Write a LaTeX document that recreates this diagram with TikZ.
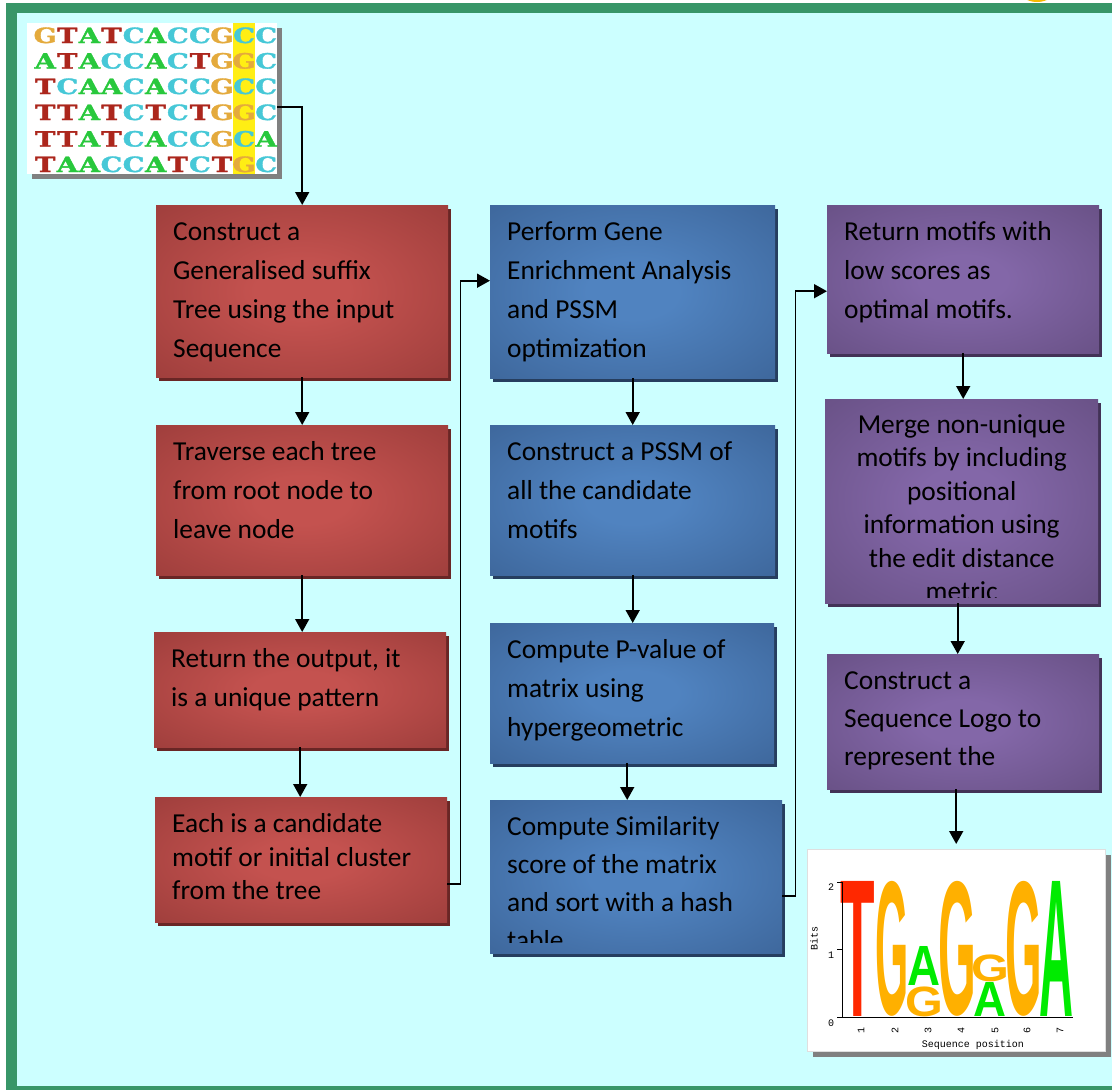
\documentclass[tikz,border=0pt]{standalone}
\usepackage{fontspec}
\usepackage{graphicx}
\setmainfont{Carlito}
\newfontfamily\seqfont{DejaVu Serif}[BoldFeatures={FakeBold=1.6}]
\newfontfamily\logofont{Liberation Sans}
\newfontfamily\axisfont{Liberation Mono}
\usetikzlibrary{arrows.meta,shadows,calc}

% palette
\definecolor{frameG}{RGB}{56,150,104}
\definecolor{bgC}{RGB}{204,255,255}
\definecolor{redC}{RGB}{196,82,79}
\definecolor{redE}{RGB}{143,54,52}
\definecolor{redS}{RGB}{105,38,37}
\definecolor{bluC}{RGB}{80,131,192}
\definecolor{bluE}{RGB}{54,91,140}
\definecolor{bluS}{RGB}{38,62,95}
\definecolor{purC}{RGB}{131,103,168}
\definecolor{purE}{RGB}{94,72,120}
\definecolor{purS}{RGB}{66,50,86}
\definecolor{nucG}{RGB}{228,170,60}
\definecolor{nucT}{RGB}{172,38,28}
\definecolor{nucA}{RGB}{40,200,60}
\definecolor{nucC}{RGB}{70,200,215}
\definecolor{hiY}{RGB}{255,238,20}
\definecolor{logoT}{RGB}{255,40,0}
\definecolor{logoG}{RGB}{255,176,0}
\definecolor{logoA}{RGB}{0,235,0}
\definecolor{sunO}{RGB}{245,185,0}
\definecolor{shadowGray}{RGB}{128,128,128}

% soft centre glow for the process boxes
\pgfdeclareradialshading{redglow}{\pgfpoint{0bp}{0bp}}{color(0bp)=(redC);color(8bp)=(redC);color(48bp)=(redE);color(75bp)=(redE)}
\pgfdeclareradialshading{bluglow}{\pgfpoint{0bp}{0bp}}{color(0bp)=(bluC);color(8bp)=(bluC);color(48bp)=(bluE);color(75bp)=(bluE)}
\pgfdeclareradialshading{purglow}{\pgfpoint{0bp}{0bp}}{color(0bp)=(purC);color(8bp)=(purC);color(48bp)=(purE);color(75bp)=(purE)}

% alignment letters, each in a fixed-width cell
\newcommand\NucCell[2]{\makebox[17pt]{\textcolor{#1}{#2}}}
\newcommand\NucG{\NucCell{nucG}{G}}
\newcommand\NucT{\NucCell{nucT}{T}}
\newcommand\NucA{\NucCell{nucA}{A}}
\newcommand\NucC{\NucCell{nucC}{C}}
\newcommand\SeqRow[1]{\scalebox{1.3}[1]{#1}}
\newcommand\TopStrut{\rule{0pt}{22pt}}
\newcommand\LogoChar[3]{\resizebox*{#1}{#2}{\logofont\bfseries #3}}

\begin{document}
\begin{tikzpicture}[x=1pt,y=-1pt,
  procbox/.style={rectangle, inner sep=0pt, anchor=north west},
  redbox/.style={procbox, shading=redglow,
    drop shadow={shadow xshift=3pt, shadow yshift=-4pt, fill=redS, opacity=1}},
  blubox/.style={procbox, shading=bluglow,
    drop shadow={shadow xshift=3pt, shadow yshift=-4pt, fill=bluS, opacity=1}},
  purbox/.style={procbox, shading=purglow,
    drop shadow={shadow xshift=3pt, shadow yshift=-4pt, fill=purS, opacity=1}},
  txt/.style={anchor=north west, inner sep=0pt, align=left, text=black,
    font=\fontsize{27.4}{39}\selectfont},
  txtb/.style={txt, font=\fontsize{27.4}{33.5}\selectfont},
  txtc/.style={anchor=north, inner sep=0pt, align=center, text=black,
    font=\fontsize{27.4}{33.5}\selectfont},
  arr/.style={line width=1.6pt, -{Triangle[width=14pt,length=13pt]}},
  seqrow/.style={anchor=base west, inner sep=0pt,
    font=\seqfont\bfseries\fontsize{21}{21}\selectfont},
  lg/.style={anchor=south west, inner sep=0pt},
  axlab/.style={inner sep=0pt, font=\axisfont\fontsize{10}{10}\selectfont},
]
\useasboundingbox (0,0) rectangle (1112,1090);
\clip (0,0) rectangle (1112,1090);

% page frame
\fill[white] (0,0) rectangle (1112,1090);
\fill[frameG] (6,3) rectangle (1130,1100);
\fill[bgC] (17,13) rectangle (1130,1086);
\fill[sunO] (1037,-12) ellipse [x radius=19, y radius=14];

% input alignment
\node[procbox, fill=white, minimum width=250pt, minimum height=151pt,
  drop shadow={shadow xshift=5pt, shadow yshift=-5pt, fill=shadowGray, opacity=1}]
  (seq) at (27,22.5) {};
\fill[hiY] (233,22.5) rectangle (255,173.5);
\begin{scope}
  \clip (27,22.5) rectangle (277,173.5);
  \node[seqrow] (q1) at (34,43)    {\SeqRow{\NucG\NucT\NucA\NucT\NucC\NucA\NucC\NucC\NucG\NucC\NucC}};
  \node[seqrow] (q2) at (34,68.5)  {\SeqRow{\NucA\NucT\NucA\NucC\NucC\NucA\NucC\NucT\NucG\NucG\NucC}};
  \node[seqrow] (q3) at (34,94)    {\SeqRow{\NucT\NucC\NucA\NucA\NucC\NucA\NucC\NucC\NucG\NucC\NucC}};
  \node[seqrow] (q4) at (34,120)   {\SeqRow{\NucT\NucT\NucA\NucT\NucC\NucT\NucC\NucT\NucG\NucG\NucC}};
  \node[seqrow] (q5) at (34,146.5) {\SeqRow{\NucT\NucT\NucA\NucT\NucC\NucA\NucC\NucC\NucG\NucC\NucA}};
  \node[seqrow] (q6) at (34,172)   {\SeqRow{\NucT\NucA\NucA\NucC\NucC\NucA\NucT\NucC\NucT\NucG\NucC}};
\end{scope}

% process boxes
\node[redbox, minimum width=292pt, minimum height=172pt] (r1) at (156,205) {};
\node[redbox, minimum width=292pt, minimum height=150pt] (r2) at (156,425) {};
\node[redbox, minimum width=292pt, minimum height=115pt] (r3) at (154,632) {};
\node[redbox, minimum width=292pt, minimum height=125pt] (r4) at (155,797) {};
\node[blubox, minimum width=285pt, minimum height=173pt] (b1) at (490,205) {};
\node[blubox, minimum width=285pt, minimum height=150pt] (b2) at (490,425) {};
\node[blubox, minimum width=284pt, minimum height=140pt] (b3) at (490,623) {};
\node[blubox, minimum width=292pt, minimum height=153pt] (b4) at (490,800) {};
\node[purbox, minimum width=272pt, minimum height=148pt] (p1) at (827,205) {};
\node[purbox, minimum width=273pt, minimum height=204pt] (p2) at (825,399) {};
\node[purbox, minimum width=272pt, minimum height=135pt] (p3) at (827,654) {};

% box texts
\node[txt]  (r1t) at ([shift={(17,13.5)}]r1.north west) {\TopStrut Construct a\\Generalised suffix\\Tree using the input\\Sequence};
\node[txt]  (r2t) at ([shift={(17,13.5)}]r2.north west) {\TopStrut Traverse each tree\\from root node to\\leave node};
\node[txt]  (r3t) at ([shift={(17,13.5)}]r3.north west) {\TopStrut Return the output, it\\is a unique pattern};
\node[txtb] (r4t) at ([shift={(17,13.5)}]r4.north west) {\TopStrut Each is a candidate\\motif or initial cluster\\from the tree};
\node[txt]  (b1t) at ([shift={(17,13.5)}]b1.north west) {\TopStrut Perform Gene\\Enrichment Analysis\\and PSSM\\optimization};
\node[txt]  (b2t) at ([shift={(17,13.5)}]b2.north west) {\TopStrut Construct a PSSM of\\all the candidate\\motifs};
\node[txt]  (b3t) at ([shift={(17,13.5)}]b3.north west) {\TopStrut Compute P-value of\\matrix using\\hypergeometric};
\begin{scope}
  \clip (490,800) rectangle (782,942);
  \node[txt, font=\fontsize{27.4}{38}\selectfont] (b4t) at ([shift={(17,13)}]b4.north west) {\TopStrut Compute Similarity\\score of the matrix\\and sort with a hash\\table};
\end{scope}
\node[txt]  (p1t) at ([shift={(17,13.5)}]p1.north west) {\TopStrut Return motifs with\\low scores as\\optimal motifs.};
\begin{scope}
  \clip (825,399) rectangle (1098,597);
  \node[txtc] (p2t) at ([shift={(0,12)}]p2.north) {\TopStrut Merge non-unique\\motifs by including\\positional\\information using\\the edit distance\\metric};
\end{scope}
\node[txt, font=\fontsize{27.4}{38}\selectfont] (p3t) at ([shift={(17,13.5)}]p3.north west) {\TopStrut Construct a\\Sequence Logo to\\represent the};

% sequence logo panel
\node[procbox, fill=white, draw=gray!25, minimum width=298pt, minimum height=202pt,
  drop shadow={shadow xshift=6pt, shadow yshift=-6pt, fill=shadowGray, opacity=1}]
  (logo) at (807,849) {};
\node[lg, text=logoT] (k1) at (839.8,1017) {\LogoChar{34.5pt}{135pt}{T}};
\node[lg, text=logoG] (k2) at (875.1,1017) {\LogoChar{33.2pt}{135pt}{G}};
\node[lg, text=logoA] (k3) at (907,986)    {\LogoChar{33pt}{39pt}{A}};
\node[lg, text=logoG] (k4) at (904.9,1017) {\LogoChar{37.8pt}{30pt}{G}};
\node[lg, text=logoG] (k5) at (937.9,1017) {\LogoChar{37.8pt}{135pt}{G}};
\node[lg, text=logoG] (k6) at (970.9,982)  {\LogoChar{37.8pt}{27pt}{G}};
\node[lg, text=logoA] (k7) at (973,1017)   {\LogoChar{33pt}{34pt}{A}};
\node[lg, text=logoG] (k8) at (1004.9,1017){\LogoChar{36.6pt}{135pt}{G}};
\node[lg, text=logoA] (k9) at (1039,1017)  {\LogoChar{34pt}{135pt}{A}};
\draw[line width=0.9pt] (842,882) -- (842,1017) -- (1073,1017);
\draw[line width=0.9pt] (837,882) -- (842,882) (837,949.5) -- (842,949.5) (837,1017) -- (842,1017);
\node[axlab] (yl2) at (831,887) {2};
\node[axlab] (yl1) at (831,955) {1};
\node[axlab] (yl0) at (831,1023) {0};
\node[axlab, rotate=90] (ybits) at (814,938) {Bits};
\node[axlab, rotate=90] (x1) at (861,1030) {1};
\node[axlab, rotate=90] (x2) at (895,1030) {2};
\node[axlab, rotate=90] (x3) at (928,1030) {3};
\node[axlab, rotate=90] (x4) at (961,1030) {4};
\node[axlab, rotate=90] (x5) at (995,1030) {5};
\node[axlab, rotate=90] (x6) at (1027,1030) {6};
\node[axlab, rotate=90] (x7) at (1060,1030) {7};
\node[axlab] (xpos) at (973,1045) {Sequence position};

% connectors
\draw[arr] ([yshift=-9pt]seq.east) -| (r1.north);
\draw[arr] (r1.south) -- (r2.north);
\draw[arr] (r2.south) -- (r2.south |- r3.north);
\draw[arr] (r3.south) -- (r3.south |- r4.north);
\draw[arr] ([yshift=-24pt]r4.east) -- ++(13,0) |- ([yshift=11pt]b1.west);
\draw[arr] (b1.south) -- (b2.north);
\draw[arr] (b2.south) -- (b2.south |- b3.north);
\draw[arr] ([xshift=-5pt]b3.south) -- ([xshift=-5pt]b3.south |- b4.north);
\draw[arr] ([yshift=-19.5pt]b4.east) -- ++(13,0) |- ([yshift=-12pt]p1.west);
\draw[arr] (p1.south) -- (p1.south |- p2.north);
\draw[arr] ([xshift=-4pt]p2.south) -- ([xshift=-4pt]p2.south |- p3.north);
\draw[arr, shorten >=5pt] (p3.south -| logo.north) -- (logo.north);
\end{tikzpicture}
\end{document}
